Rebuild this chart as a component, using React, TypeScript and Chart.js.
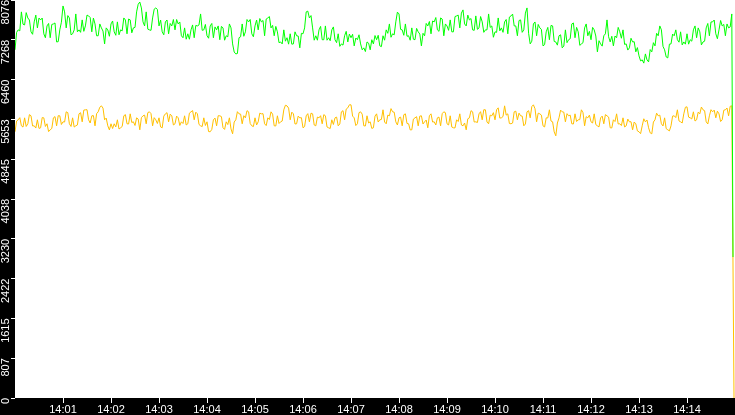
import React, { useEffect, useRef } from 'react';
import { Chart, registerables } from 'chart.js';

Chart.register(...registerables);

// ---- data ----
const Y_MAX = 8076;
const Y_TICK_COUNT = 10;
const X_MAX_SECONDS = 900; // 14:00:00 .. 14:15:00
const SAMPLE_SECONDS = 4;
const HOUR_LABEL = '14';

// samples at 14:00:00 + i*4s
const GREEN_VALUES = [
  7065, 7470, 7835, 7570, 7712, 7430, 7632, 7510, 7672, 7390,
  7550, 7310, 7590, 7225, 7470, 7955, 7510, 7712, 7390, 7793,
  7470, 7672, 7550, 7753, 7430, 7590, 7350, 7510, 7185, 7470,
  7590, 7430, 7632, 7470, 7712, 7390, 7672, 7510, 7835, 8035,
  7632, 7835, 7470, 7712, 7915, 7550, 7430, 7632, 7390, 7550,
  7470, 7590, 7350, 7510, 7390, 7470, 7310, 7550, 7793, 7470,
  7350, 7550, 7310, 7470, 7270, 7510, 7350, 7590, 7185, 6982,
  7310, 7590, 7430, 7632, 7390, 7550, 7470, 7632, 7350, 7712,
  7510, 7350, 7430, 7225, 7470, 7310, 7390, 7185, 7350, 7105,
  7390, 7835, 7712, 7510, 7350, 7470, 7270, 7550, 7310, 7470,
  7270, 7390, 7185, 7350, 7225, 7310, 7145, 7270, 7185, 7105,
  7225, 7065, 7185, 7270, 7145, 7350, 7470, 7590, 7390, 7632,
  7793, 7470, 7590, 7350, 7510, 7270, 7430, 7145, 7350, 7550,
  7390, 7632, 7470, 7712, 7350, 7550, 7672, 7430, 7753, 7510,
  7875, 7550, 7672, 7470, 7753, 7510, 7632, 7470, 7793, 7550,
  7430, 7712, 7510, 7632, 7390, 7753, 7550, 7350, 7672, 7470,
  7915, 7185, 7590, 7350, 7510, 7145, 7430, 7270, 7550, 7225,
  7350, 7105, 7470, 7270, 7590, 7310, 7430, 7185, 7510, 7350,
  7270, 7470, 7024, 7185, 7350, 7672, 7225, 7145, 7310, 7430,
  7470, 7185, 7105, 7225, 7024, 6942, 6861, 6982, 6820, 7024,
  7145, 7350, 7470, 7065, 6901, 7185, 7350, 7270, 7430, 7225,
  7390, 7270, 7470, 7310, 7430, 7225, 7510, 7350, 7632, 7390,
  7470, 7550, 7350, 7510, 7793,
];

// samples at 14:00:00 + i*4s + 2s
const GREEN_MID_VALUES = [
  7420, 7450, 7585, 7820, 7670, 7380, 7770, 7710, 7710, 7310,
  7600, 7580, 7610, 7230, 7625, 7835, 7760, 7370, 7470, 7430,
  7420, 7440, 7770, 7720, 7710, 7350, 7590, 7445, 7510, 7340,
  7650, 7360, 7370, 7450, 7670, 7690, 7410, 7520, 7990, 7915,
  7550, 7485, 7460, 7890, 7885, 7670, 7370, 7670, 7600, 7680,
  7680, 7630, 7310, 7280, 7280, 7570, 7560, 7570, 7460, 7580,
  7300, 7600, 7530, 7550, 7540, 7260, 7330, 7510, 7020, 6990,
  7330, 7340, 7680, 7680, 7330, 7670, 7700, 7660, 7690, 7740,
  7560, 7540, 7210, 7185, 7240, 7180, 7180, 7430, 7345, 7400,
  7510, 7850, 7760, 7260, 7260, 7540, 7270, 7260, 7250, 7530,
  7210, 7135, 7160, 7440, 7385, 7380, 7305, 7370, 7065, 7030,
  7200, 7270, 7355, 7360, 7130, 7260, 7400, 7320, 7370, 7830,
  7480, 7360, 7340, 7260, 7280, 7500, 7385, 7400, 7600, 7640,
  7650, 7720, 7440, 7690, 7590, 7460, 7430, 7740, 7770, 7810,
  7590, 7770, 7700, 7460, 7480, 7740, 7420, 7470, 7520, 7320,
  7420, 7450, 7420, 7680, 7730, 7790, 7550, 7660, 7420, 7810,
  7400, 7240, 7630, 7580, 7480, 7170, 7520, 7560, 7235, 7160,
  7370, 7140, 7210, 7290, 7610, 7520, 7155, 7210, 7590, 7440,
  7520, 7345, 7250, 7140, 7390, 7330, 7340, 7345, 7520, 7300,
  7175, 7060, 7300, 7230, 7110, 6840, 6795, 6860, 7070, 7210,
  7400, 7550, 7135, 6920, 7180, 7385, 7470, 7220, 7165, 7180,
  7180, 7240, 7550, 7510, 7165, 7240, 7600, 7630, 7670, 7290,
  7660, 7580, 7590, 7530,
];

const YELLOW_VALUES = [
  5402, 5645, 5523, 5685, 5564, 5726, 5523, 5645, 5483, 5685,
  5564, 5442, 5685, 5523, 5726, 5604, 5807, 5564, 5685, 5523,
  5766, 5604, 5848, 5645, 5726, 5523, 5807, 5928, 5645, 5523,
  5564, 5564, 5645, 5483, 5726, 5564, 5766, 5604, 5685, 5442,
  5726, 5564, 5807, 5523, 5645, 5685, 5483, 5766, 5604, 5726,
  5564, 5685, 5604, 5726, 5564, 5807, 5645, 5766, 5523, 5685,
  5604, 5402, 5645, 5523, 5726, 5483, 5604, 5685, 5361, 5645,
  5766, 5564, 5685, 5807, 5523, 5685, 5604, 5766, 5564, 5685,
  5807, 5523, 5726, 5604, 5848, 5928, 5645, 5766, 5564, 5685,
  5483, 5726, 5604, 5766, 5523, 5685, 5564, 5726, 5483, 5645,
  5685, 5523, 5807, 5645, 5888, 5949, 5685, 5564, 5807, 5523,
  5726, 5604, 5483, 5766, 5645, 5848, 5564, 5726, 5807, 5604,
  5685, 5523, 5766, 5564, 5442, 5685, 5523, 5726, 5604, 5483,
  5766, 5604, 5685, 5523, 5807, 5564, 5726, 5483, 5645, 5766,
  5523, 5442, 5685, 5807, 5604, 5766, 5645, 5848, 5564, 5726,
  5645, 5888, 5685, 5928, 5766, 5564, 5807, 5645, 5726, 5523,
  5807, 5685, 5949, 5604, 5766, 5523, 5685, 5848, 5604, 5320,
  5685, 5807, 5604, 5726, 5564, 5766, 5645, 5848, 5523, 5685,
  5604, 5766, 5523, 5685, 5564, 5726, 5483, 5645, 5766, 5564,
  5685, 5523, 5604, 5442, 5564, 5402, 5523, 5604, 5483, 5361,
  5645, 5726, 5564, 5685, 5442, 5523, 5726, 5848, 5604, 5766,
  5908, 5685, 5807, 5645, 5766, 5848, 5604, 5726, 5807, 5685,
  5766, 5645, 5848, 5726, 5928,
];

const YELLOW_MID_VALUES = [
  5620, 5688, 5498, 5510, 5750, 5520, 5478, 5470, 5690, 5510,
  5406, 5470, 5710, 5728, 5550, 5600, 5790, 5510, 5498, 5540,
  5790, 5842, 5850, 5580, 5730, 5770, 5900, 5882, 5680, 5440,
  5468, 5500, 5458, 5510, 5750, 5560, 5590, 5530, 5660, 5688,
  5740, 5790, 5770, 5688, 5570, 5500, 5720, 5790, 5760, 5540,
  5720, 5530, 5570, 5540, 5780, 5832, 5800, 5550, 5508, 5530,
  5406, 5450, 5680, 5728, 5710, 5450, 5548, 5460, 5600, 5810,
  5760, 5728, 5830, 5570, 5508, 5540, 5780, 5770, 5528, 5650,
  5760, 5520, 5570, 5620, 5940, 5882, 5800, 5560, 5720, 5688,
  5508, 5770, 5780, 5540, 5700, 5728, 5750, 5500, 5468, 5550,
  5700, 5560, 5830, 5862, 5950, 5720, 5528, 5790, 5760, 5520,
  5580, 5470, 5720, 5600, 5652, 5600, 5740, 5872, 5800, 5540,
  5700, 5748, 5570, 5440, 5660, 5708, 5720, 5560, 5640, 5728,
  5600, 5540, 5700, 5770, 5790, 5540, 5498, 5480, 5610, 5540,
  5580, 5666, 5830, 5600, 5590, 5810, 5850, 5600, 5740, 5790,
  5850, 5680, 5712, 5740, 5570, 5580, 5820, 5780, 5720, 5560,
  5830, 5914, 5870, 5780, 5740, 5500, 5682, 5620, 5400, 5580,
  5842, 5800, 5770, 5740, 5560, 5610, 5650, 5790, 5708, 5740,
  5580, 5548, 5500, 5720, 5750, 5700, 5480, 5610, 5560, 5528,
  5500, 5660, 5606, 5600, 5420, 5364, 5666, 5640, 5380, 5600,
  5780, 5740, 5520, 5466, 5420, 5720, 5690, 5622, 5580, 5900,
  5700, 5662, 5620, 5800, 5904, 5830, 5560, 5850, 5842, 5820,
  5610, 5840, 5884, 5920,
];

// final drop at the very end of the window (seconds, value)
const GREEN_TAIL = [{ t: 897.5, v: 2860 }];
const YELLOW_TAIL = [{ t: 898.75, v: 0 }];

const GREEN_COLOR = '#00FF00';
const YELLOW_COLOR = '#FFC000';

function toPoints(values: number[], mids: number[], tail: { t: number; v: number }[]) {
  const pts: { x: number; y: number }[] = [];
  values.forEach((v, i) => {
    pts.push({ x: i * SAMPLE_SECONDS, y: v });
    if (i < mids.length) pts.push({ x: i * SAMPLE_SECONDS + SAMPLE_SECONDS / 2, y: mids[i] });
  });
  tail.forEach((p) => pts.push({ x: p.t, y: p.v }));
  return pts;
}

const bgPlugin = {
  id: 'bgPlugin',
  beforeDraw(chart: any) {
    const { ctx, chartArea, width, height } = chart;
    ctx.save();
    ctx.fillStyle = '#000000';
    ctx.fillRect(0, 0, width, height);
    ctx.fillStyle = '#FFFFFF';
    ctx.fillRect(
      chartArea.left,
      chartArea.top,
      chartArea.right - chartArea.left,
      chartArea.bottom - chartArea.top
    );
    ctx.restore();
  },
};

const FONT = { family: '"Liberation Sans", Arial, sans-serif', size: 11 };

export default function App() {
  const canvasRef = useRef<HTMLCanvasElement | null>(null);

  useEffect(() => {
    const canvas = canvasRef.current;
    if (!canvas) return;
    const chart = new Chart(canvas, {
      type: 'line',
      data: {
        datasets: [
          {
            label: 'green',
            data: toPoints(GREEN_VALUES, GREEN_MID_VALUES, GREEN_TAIL),
            borderColor: GREEN_COLOR,
            borderWidth: 1,
            pointRadius: 0,
            tension: 0,
            fill: false,
          },
          {
            label: 'yellow',
            data: toPoints(YELLOW_VALUES, YELLOW_MID_VALUES, YELLOW_TAIL),
            borderColor: YELLOW_COLOR,
            borderWidth: 1,
            pointRadius: 0,
            tension: 0,
            fill: false,
          },
        ],
      },
      options: {
        animation: false,
        responsive: false,
        devicePixelRatio: 1,
        layout: { padding: 0 },
        plugins: {
          legend: { display: false },
          tooltip: { enabled: false },
        },
        scales: {
          x: {
            type: 'linear',
            position: 'bottom',
            min: 0,
            max: X_MAX_SECONDS,
            border: { display: false },
            grid: {
              drawOnChartArea: false,
              drawTicks: true,
              tickLength: 5,
              color: '#FFFFFF',
              tickColor: '#FFFFFF',
            },
            ticks: {
              stepSize: 60,
              autoSkip: false,
              maxRotation: 0,
              minRotation: 0,
              padding: 0,
              color: '#FFFFFF',
              font: FONT,
              callback: (v: any) => {
                const n = Number(v);
                if (n <= 0 || n >= X_MAX_SECONDS) return null;
                const m = Math.round(n / 60);
                return `${HOUR_LABEL}:${m < 10 ? '0' + m : m}`;
              },
            },
            afterFit: (scale: any) => {
              scale.height = 17;
              scale.paddingLeft = 0;
              scale.paddingRight = 0;
            },
          },
          y: {
            type: 'linear',
            position: 'left',
            min: 0,
            max: Y_MAX,
            border: { display: false },
            grid: {
              drawOnChartArea: false,
              drawTicks: true,
              tickLength: 4,
              color: '#FFFFFF',
              tickColor: '#FFFFFF',
            },
            afterBuildTicks: (scale: any) => {
              const ticks = [];
              for (let i = 0; i <= Y_TICK_COUNT; i++) {
                ticks.push({ value: (i * Y_MAX) / Y_TICK_COUNT });
              }
              scale.ticks = ticks;
            },
            ticks: {
              minRotation: 90,
              maxRotation: 90,
              padding: 5,
              color: '#FFFFFF',
              font: FONT,
              callback: (v: any) => String(Math.floor(Number(v) + 1e-6)),
            },
            afterFit: (scale: any) => {
              scale.width = 15;
              scale.paddingTop = 0;
              scale.paddingBottom = 0;
            },
          },
        },
      },
      plugins: [bgPlugin],
    } as any);
    return () => chart.destroy();
  }, []);

  return (
    <div style={{ position: 'absolute', left: 0, top: 0, width: 735, height: 415, background: '#000' }}>
      <canvas ref={canvasRef} width={735} height={415} style={{ display: 'block' }} />
    </div>
  );
}
